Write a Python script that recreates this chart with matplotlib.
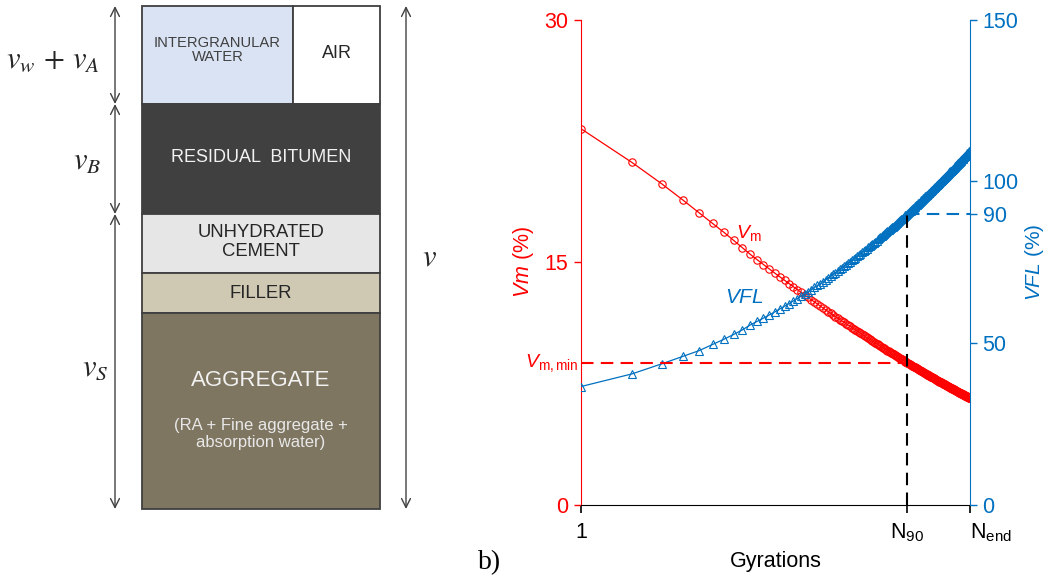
import matplotlib
matplotlib.use("Agg")
import matplotlib.pyplot as plt
from matplotlib.patches import Rectangle
from matplotlib.ticker import NullLocator

plt.rcParams['font.family'] = ['Liberation Sans', 'DejaVu Sans']
plt.rcParams['mathtext.fontset'] = 'custom'
plt.rcParams['mathtext.rm'] = 'Liberation Sans'
plt.rcParams['mathtext.it'] = 'Liberation Sans:italic'

# gyratory compaction: voids in the mix and voids filled with liquid
gyrations = list(range(1, 201))

vm = [
    23.25, 21.17, 19.85, 18.85, 18.05, 17.40, 16.85, 16.35, 15.90, 15.50,
    15.16, 14.86, 14.59, 14.33, 14.10, 13.88, 13.68, 13.49, 13.31, 13.14,
    12.98, 12.83, 12.69, 12.55, 12.42, 12.29, 12.17, 12.06, 11.95, 11.84,
    11.74, 11.64, 11.55, 11.46, 11.37, 11.28, 11.20, 11.12, 11.04, 10.96,
    10.89, 10.82, 10.75, 10.68, 10.61, 10.54, 10.48, 10.42, 10.36, 10.30,
    10.24, 10.18, 10.13, 10.07, 10.02, 9.97, 9.92, 9.87, 9.82, 9.77,
    9.72, 9.68, 9.63, 9.59, 9.54, 9.50, 9.46, 9.42, 9.38, 9.34,
    9.30, 9.26, 9.22, 9.18, 9.14, 9.11, 9.07, 9.03, 9.00, 8.96,
    8.93, 8.90, 8.86, 8.83, 8.80, 8.77, 8.73, 8.70, 8.67, 8.64,
    8.61, 8.58, 8.55, 8.52, 8.50, 8.47, 8.44, 8.41, 8.39, 8.36,
    8.33, 8.31, 8.28, 8.25, 8.23, 8.20, 8.18, 8.15, 8.13, 8.11,
    8.08, 8.06, 8.04, 8.01, 7.99, 7.97, 7.94, 7.92, 7.90, 7.88,
    7.86, 7.84, 7.82, 7.79, 7.77, 7.75, 7.73, 7.71, 7.69, 7.67,
    7.65, 7.63, 7.61, 7.59, 7.58, 7.56, 7.54, 7.52, 7.50, 7.48,
    7.47, 7.45, 7.43, 7.41, 7.39, 7.38, 7.36, 7.34, 7.33, 7.31,
    7.29, 7.27, 7.26, 7.24, 7.23, 7.21, 7.19, 7.18, 7.16, 7.15,
    7.13, 7.12, 7.10, 7.09, 7.07, 7.05, 7.04, 7.03, 7.01, 7.00,
    6.98, 6.97, 6.95, 6.94, 6.92, 6.91, 6.90, 6.88, 6.87, 6.86,
    6.84, 6.83, 6.82, 6.80, 6.79, 6.78, 6.76, 6.75, 6.74, 6.72,
    6.71, 6.70, 6.69, 6.67, 6.66, 6.65, 6.64, 6.62, 6.61, 6.60,
]

vfl = [
    36.6, 40.5, 43.6, 45.9, 47.7, 49.6, 51.2, 52.7, 54.1, 55.6,
    56.70, 57.73, 58.72, 59.65, 60.55, 61.40, 62.22, 63.01, 63.77, 64.50,
    65.21, 65.89, 66.56, 67.20, 67.82, 68.43, 69.02, 69.60, 70.16, 70.70,
    71.24, 71.76, 72.27, 72.77, 73.26, 73.73, 74.20, 74.66, 75.11, 75.55,
    75.98, 76.40, 76.83, 77.24, 77.64, 78.04, 78.43, 78.81, 79.19, 79.56,
    79.93, 80.29, 80.65, 81.00, 81.35, 81.69, 82.03, 82.35, 82.69, 83.01,
    83.33, 83.65, 83.95, 84.26, 84.56, 84.86, 85.17, 85.46, 85.75, 86.03,
    86.32, 86.60, 86.88, 87.15, 87.43, 87.70, 87.97, 88.22, 88.49, 88.74,
    89.01, 89.26, 89.51, 89.75, 90.00, 90.24, 90.48, 90.73, 90.97, 91.20,
    91.43, 91.67, 91.90, 92.12, 92.35, 92.57, 92.79, 93.02, 93.23, 93.45,
    93.66, 93.88, 94.09, 94.30, 94.51, 94.72, 94.92, 95.13, 95.32, 95.53,
    95.73, 95.92, 96.12, 96.31, 96.51, 96.70, 96.90, 97.08, 97.27, 97.46,
    97.65, 97.83, 98.02, 98.20, 98.38, 98.56, 98.74, 98.91, 99.09, 99.27,
    99.44, 99.62, 99.79, 99.96, 100.12, 100.29, 100.47, 100.64, 100.79, 100.96,
    101.13, 101.29, 101.45, 101.62, 101.78, 101.94, 102.09, 102.26, 102.41, 102.57,
    102.73, 102.87, 103.04, 103.18, 103.34, 103.49, 103.64, 103.79, 103.94, 104.09,
    104.23, 104.38, 104.52, 104.68, 104.82, 104.97, 105.11, 105.25, 105.39, 105.53,
    105.67, 105.81, 105.95, 106.09, 106.23, 106.37, 106.51, 106.64, 106.78, 106.90,
    107.04, 107.18, 107.31, 107.44, 107.58, 107.70, 107.83, 107.97, 108.10, 108.22,
    108.35, 108.49, 108.61, 108.74, 108.86, 108.98, 109.12, 109.25, 109.36, 109.49,
]

vfl_target = 90
vm_ticks = [0, 15, 30]
vfl_ticks = [0, 50, 90, 100, 150]

RED = '#FF0000'
BLUE = '#0070C0'
EDGE = '#3F3F3F'

fig = plt.figure(figsize=(10.48, 5.81), dpi=100)

# ---- a) phase diagram, drawn in pixel units on a full-figure axes ----
bg = fig.add_axes([0, 0, 1, 1])
bg.set_xlim(0, 1048)
bg.set_ylim(581, 0)
bg.axis('off')

x0, x1, xs = 142, 380, 293
layers = [
    # (top, bottom, facecolor)
    (104, 214, '#404040'),
    (214, 273, '#E7E6E6'),
    (273, 313, '#CFC9B4'),
    (313, 509, '#7F7661'),
]
bg.add_patch(Rectangle((x0, 6), xs - x0, 98, fc='#DAE3F3', ec=EDGE, lw=1.3))
bg.add_patch(Rectangle((xs, 6), x1 - xs, 98, fc='white', ec=EDGE, lw=1.3))
for top, bot, fc in layers:
    bg.add_patch(Rectangle((x0, top), x1 - x0, bot - top, fc=fc, ec=EDGE, lw=1.3))

xm = (x0 + x1) / 2
bg.text((x0 + xs) / 2, 50, 'INTERGRANULAR\nWATER', ha='center', va='center',
        fontsize=10.6, color='#404040', linespacing=0.95)
bg.text((xs + x1) / 2, 54, 'AIR', ha='center', va='center', fontsize=13, color='#262626')
bg.text(xm, 158, 'RESIDUAL  BITUMEN', ha='center', va='center', fontsize=13, color='#F2F2F2')
bg.text(xm, 242, 'UNHYDRATED\nCEMENT', ha='center', va='center', fontsize=13.3,
        color='#262626', linespacing=1.15)
bg.text(xm, 293, 'FILLER', ha='center', va='center', fontsize=13.3, color='#262626')
bg.text(xm, 380, 'AGGREGATE', ha='center', va='center', fontsize=16, color='#F2F2F2')
bg.text(xm, 434, '(RA + Fine aggregate +\nabsorption water)', ha='center', va='center',
        fontsize=12, color='#E8E8E8', linespacing=1.15)

arrow = dict(arrowstyle='<->', color='#404040', lw=1.0, mutation_scale=16,
             shrinkA=0, shrinkB=0)
for top, bot in [(6, 104), (104, 214), (214, 509)]:
    bg.annotate('', xy=(115, top), xytext=(115, bot), arrowprops=arrow)
bg.annotate('', xy=(406, 6), xytext=(406, 509), arrowprops=arrow)

mkw = dict(fontsize=22, color='#262626', math_fontfamily='stix', va='center')
bg.text(6, 60, r'$v_w\,+\,v_A$', ha='left', **mkw)
bg.text(101, 162, r'$v_B$', ha='right', **mkw)
bg.text(108, 368, r'$v_S$', ha='right', **mkw)
bg.text(422, 258, r'$v$', ha='left', **mkw)

bg.text(478, 563, 'b)', fontsize=20, family='Liberation Serif', va='center', ha='left')

# ---- b) compaction curves ----
ax = fig.add_axes([581 / 1048, 76 / 581, 389 / 1048, 485.5 / 581])
ax2 = ax.twinx()

ax.plot(gyrations, vm, color=RED, marker='o', ms=5.3, mfc='none', mew=0.8, lw=0.9)
ax2.plot(gyrations, vfl, color=BLUE, marker='^', ms=5.5, mfc='none', mew=0.8, lw=0.9)

ax.set_xscale('log')
ax.set_xlim(gyrations[0], gyrations[-1])
ax.set_ylim(vm_ticks[0], vm_ticks[-1])
ax2.set_ylim(vfl_ticks[0], vfl_ticks[-1])

# N90: first gyration reaching the target VFL
i90 = next(i for i, v in enumerate(vfl) if v >= vfl_target)
n90 = gyrations[i90]
vm_min = vm[i90]

dash = dict(lw=1.5, dashes=(6, 3.5))
ax2.plot([gyrations[0], n90], [vm_min, vm_min], color=RED, transform=ax.transData, **dash)
ax2.plot([n90, n90], [0, vfl_target], color='black', **dash)
ax2.plot([n90, gyrations[-1]], [vfl_target, vfl_target], color=BLUE, **dash)

ax.set_xticks([gyrations[0], n90, gyrations[-1]])
ax.set_xticklabels(['1', r'N$_{90}$', r'N$_{\mathrm{end}}$'])
ax.xaxis.set_minor_locator(NullLocator())
ax.get_xticklabels()[-1].set_horizontalalignment('left')
ax.tick_params(axis='x', labelsize=15.5, length=6, width=1.2, direction='out', pad=6)

ax.set_yticks(vm_ticks)
ax.tick_params(axis='y', colors=RED, labelsize=15.5, length=5, width=1, pad=4)
ax2.set_yticks(vfl_ticks)
ax2.tick_params(axis='y', colors=BLUE, labelsize=15.5, length=5, width=1, pad=4)

for s in ['top', 'right']:
    ax.spines[s].set_visible(False)
for s in ['top', 'left', 'bottom']:
    ax2.spines[s].set_visible(False)
ax.spines['left'].set_color(RED)
ax.spines['bottom'].set_color('black')
ax2.spines['right'].set_color(BLUE)

ax.set_xlabel('Gyrations', fontsize=15.5, labelpad=5)
ax.set_ylabel(r'$Vm$ (%)', fontsize=15.5, color=RED, labelpad=6)
ax2.set_ylabel(r'$VFL$ (%)', fontsize=15, color=BLUE, labelpad=3)

ax.text(8.3, 16.5, r'$V_{\mathrm{m}}$', color=RED, fontsize=14)
ax.text(7.1, 12.5, r'$VFL$', color=BLUE, fontsize=15)
ax.text(0.97, vm_min, r'$V_{\mathrm{m,min}}$', color=RED, fontsize=14,
        ha='right', va='center')

fig.savefig('out.png', dpi=100)
